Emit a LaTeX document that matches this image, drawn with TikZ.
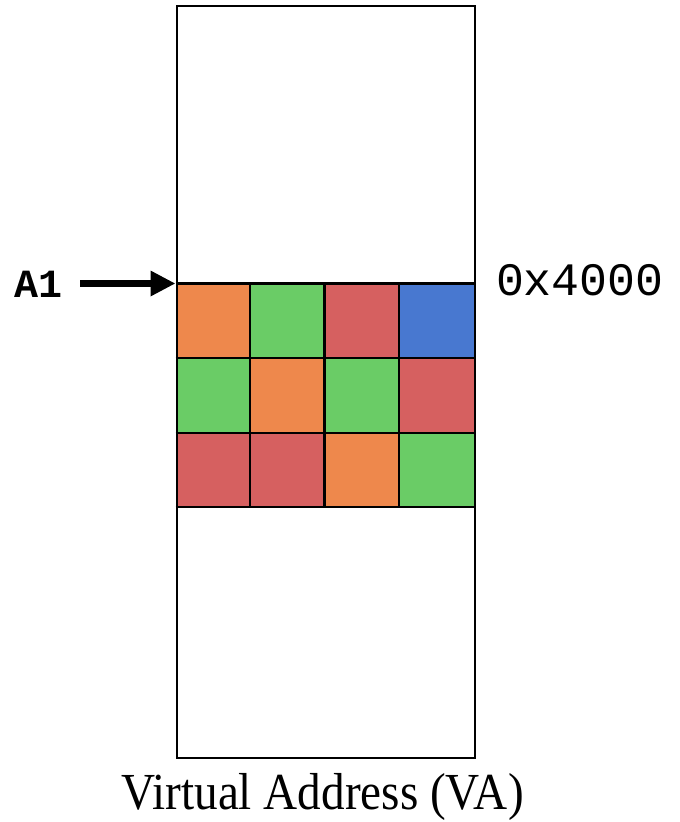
\documentclass[tikz,border=0pt]{standalone}
\usepackage{fontspec}
\usepackage{graphicx}
\usetikzlibrary{arrows.meta}
\setmainfont{Liberation Serif}
\newfontfamily\monof{Liberation Mono}
\definecolor{cOr}{RGB}{238,136,76}
\definecolor{cGr}{RGB}{106,204,102}
\definecolor{cRd}{RGB}{214,96,96}
\definecolor{cBl}{RGB}{72,120,208}
\tikzset{
  cell/.style={draw=black, line width=2.2pt},
  frame/.style={draw=black, line width=2.6pt},
  lbl/.style={inner sep=0pt, outer sep=0pt},
}
\begin{document}
\begin{tikzpicture}[x=1pt,y=-1pt]
\useasboundingbox (0,0) rectangle (680,822);
% cells
\foreach \c/\r/\col in {0/0/cOr,1/0/cGr,2/0/cRd,3/0/cBl,
                        0/1/cGr,1/1/cOr,2/1/cGr,3/1/cRd,
                        0/2/cRd,1/2/cRd,2/2/cOr,3/2/cGr}{
  \fill[\col] ({175.5+\c*74.5},{283.5+\r*74.6}) rectangle ++(74.5,74.6);
}
\foreach \c in {1,2,3}{
  \draw[cell] ({175.5+\c*74.5},283.5) -- ({175.5+\c*74.5},507.3);
}
\foreach \r in {0,1,2,3}{
  \draw[cell] (175.5,{283.5+\r*74.6}) -- (473.5,{283.5+\r*74.6});
}
\node[frame, minimum width=298pt, minimum height=752pt, inner sep=0pt, anchor=north west] (mem) at (175.5,4.5) {};
\coordinate (top) at (175.5,283.5);
% labels
\node[lbl, anchor=base west, font=\monof\bfseries\fontsize{40}{40}\selectfont] (a1) at (14,297) {A1};
\draw[line width=7pt, -{Triangle[length=25pt,width=24pt]}] (80,283.5) -- (top);
\node[lbl, anchor=base west, font=\monof\fontsize{46.5}{46.5}\selectfont] (addr) at (496,295) {0x4000};
\node[lbl, anchor=base, font=\fontsize{52}{52}\selectfont] (va) at (322.5,809) {\scalebox{0.907}[1]{Virtual Address (VA)}};
\end{tikzpicture}
\end{document}
